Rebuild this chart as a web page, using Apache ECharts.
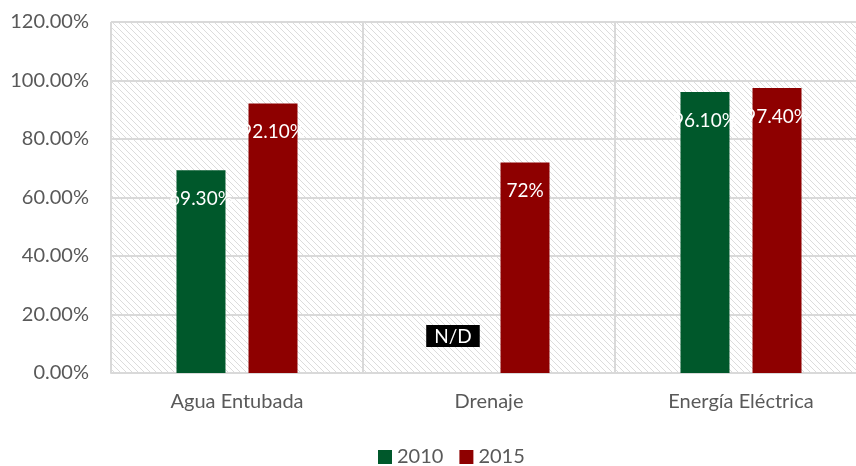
<!DOCTYPE html>
<html><head><meta charset="utf-8">
<script src="https://cdn.jsdelivr.net/npm/echarts@6/dist/echarts.min.js"></script>
<style>html,body{margin:0;padding:0;background:#fff}#c{width:856px;height:466px}</style>
</head><body><div id="c"></div>
<script>
const categories = ['Agua Entubada', 'Drenaje', 'Energía Eléctrica'];
const seriesNames = ['2010', '2015'];
const values2010 = [69.3, 0, 96.1];
const values2015 = [92.1, 72, 97.4];
const labels2010 = ['69.30%', 'N/D', '96.10%'];
const labels2015 = ['92.10%', '72%', '97.40%'];
const colors = ['#00582b', '#8e0000'];

const tile = document.createElement('canvas');
tile.width = 6; tile.height = 6;
const tc = tile.getContext('2d');
tc.fillStyle = '#ffffff'; tc.fillRect(0, 0, 6, 6);
tc.strokeStyle = '#dcdcdc'; tc.lineWidth = 1;
tc.beginPath();
tc.moveTo(-1, -1); tc.lineTo(7, 7);
tc.moveTo(-1, 5); tc.lineTo(1, 7);
tc.moveTo(5, -1); tc.lineTo(7, 1);
tc.stroke();

const font = 'Lato';
function buildData(vals, labels) {
  return vals.map((v, i) => {
    if (labels[i] === 'N/D') {
      return {
        value: v,
        label: {
          show: true, position: 'top', distance: 26, formatter: 'N/D',
          color: '#fff', backgroundColor: '#000', padding: [2, 8, 1, 8],
          fontSize: 19, fontFamily: font
        }
      };
    }
    return { value: v, label: { formatter: labels[i] } };
  });
}
const chart = echarts.init(document.getElementById('c'));
chart.setOption({
  animation: false,
  grid: {
    left: 111, right: -11, top: 22, bottom: 93,
    outerBoundsMode: 'none', containLabel: false,
    show: true, borderWidth: 0,
    backgroundColor: { image: tile, repeat: 'repeat' }
  },
  legend: {
    data: seriesNames, left: 373, top: 442,
    itemWidth: 14, itemHeight: 14, itemGap: 16, icon: 'rect',
    textStyle: { color: '#595959', fontSize: 20, fontFamily: font }
  },
  xAxis: {
    type: 'category', data: categories,
    axisLine: { lineStyle: { color: '#d9d9d9', width: 2 } },
    axisTick: { show: false },
    splitLine: { show: true, lineStyle: { color: '#d9d9d9', width: 2 } },
    axisLabel: { color: '#595959', fontSize: 20, fontFamily: font, margin: 19 }
  },
  yAxis: {
    type: 'value', min: 0, max: 120, interval: 20,
    axisLine: { show: false }, axisTick: { show: false },
    splitLine: { lineStyle: { color: '#d9d9d9', width: 2 } },
    axisLabel: { color: '#595959', fontSize: 20, fontFamily: font, margin: 22,
      formatter: v => v.toFixed(2) + '%' }
  },
  series: [
    { name: seriesNames[0], type: 'bar', barWidth: 49, barGap: '47%',
      itemStyle: { color: colors[0] },
      label: { show: true, position: 'insideTop', distance: 19, color: '#fff', fontSize: 19, fontFamily: font },
      data: buildData(values2010, labels2010) },
    { name: seriesNames[1], type: 'bar', barWidth: 49, barGap: '47%',
      itemStyle: { color: colors[1] },
      label: { show: true, position: 'insideTop', distance: 19, color: '#fff', fontSize: 19, fontFamily: font },
      data: buildData(values2015, labels2015) }
  ]
});
</script></body></html>
